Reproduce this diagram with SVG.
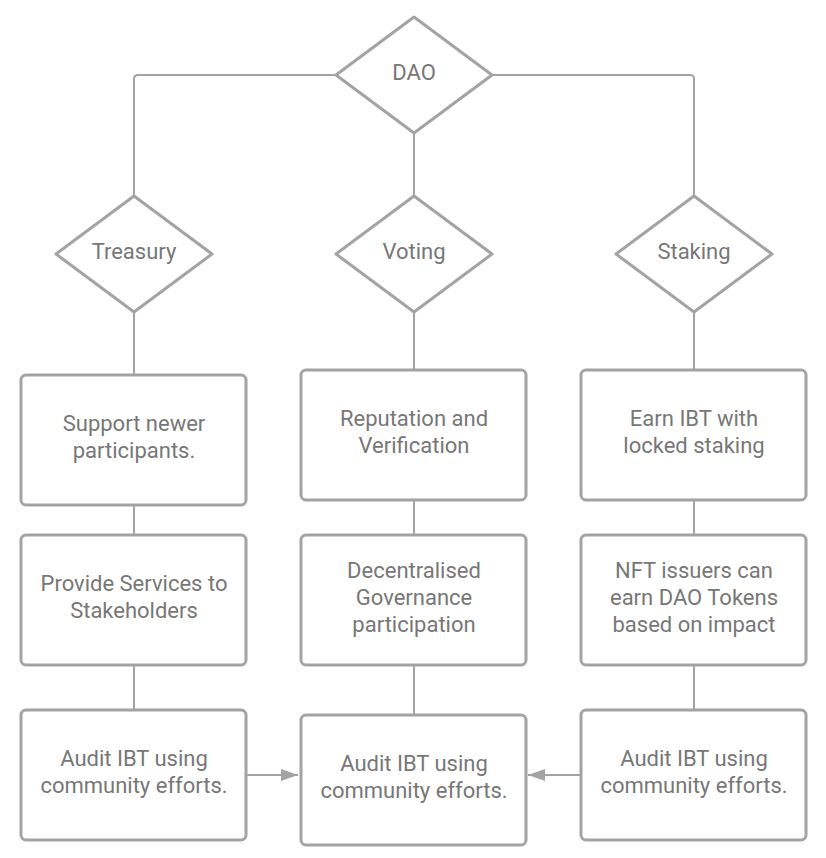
<svg xmlns="http://www.w3.org/2000/svg" width="826" height="858" viewBox="0 0 826 858">
<style>
.shape{fill:#ffffff;stroke:#a3a3a3;stroke-width:3;stroke-linejoin:round}
.conn{fill:none;stroke:#a3a3a3;stroke-width:2;stroke-linejoin:round}
.lbl{font-family:Roboto,"Liberation Sans",Arial,sans-serif;font-size:22px;fill:#777777;text-anchor:middle}
</style>
<defs>
<marker id="arr" viewBox="0 0 17 12" refX="17" refY="6" markerWidth="17" markerHeight="12" markerUnits="userSpaceOnUse" orient="auto">
<path d="M0,0 L17,6 L0,12 Z" fill="#a3a3a3"/>
</marker>
</defs>
<rect width="826" height="858" fill="#ffffff"/>
<g id="connectors">
<path class="conn" d="M336,75 H138 Q134,75 134,79 V196"/>
<path class="conn" d="M492,75 H690 Q694,75 694,79 V196"/>
<path class="conn" d="M414,133 V196"/>
<path class="conn" d="M134,312 V375"/>
<path class="conn" d="M134,505 V535"/>
<path class="conn" d="M134,665 V710"/>
<path class="conn" d="M414,312 V370"/>
<path class="conn" d="M414,500 V535"/>
<path class="conn" d="M414,665 V715"/>
<path class="conn" d="M694,312 V370"/>
<path class="conn" d="M694,500 V535"/>
<path class="conn" d="M694,665 V710"/>
<path class="conn" d="M246,775 H298" marker-end="url(#arr)"/>
<path class="conn" d="M581,775 H528" marker-end="url(#arr)"/>
</g>
<g id="dao">
<path class="shape" d="M414,17 L492,75 L414,133 L336,75 Z"/>
<text class="lbl" x="414" y="80">DAO</text>
</g>
<g id="treasury">
<path class="shape" d="M134,196 L212,254 L134,312 L56,254 Z"/>
<text class="lbl" x="134" y="259">Treasury</text>
</g>
<g id="voting">
<path class="shape" d="M414,196 L492,254 L414,312 L336,254 Z"/>
<text class="lbl" x="414" y="259">Voting</text>
</g>
<g id="staking">
<path class="shape" d="M694,196 L772,254 L694,312 L616,254 Z"/>
<text class="lbl" x="694" y="259">Staking</text>
</g>
<g id="t1">
<rect class="shape" x="21" y="375" width="225" height="130" rx="5"/>
<text class="lbl" x="134" y="431">Support newer</text>
<text class="lbl" x="134" y="458">participants.</text>
</g>
<g id="t2">
<rect class="shape" x="21" y="535" width="225" height="130" rx="5"/>
<text class="lbl" x="134" y="591">Provide Services to</text>
<text class="lbl" x="134" y="618">Stakeholders</text>
</g>
<g id="t3">
<rect class="shape" x="21" y="710" width="225" height="130" rx="5"/>
<text class="lbl" x="134" y="766">Audit IBT using</text>
<text class="lbl" x="134" y="793">community efforts.</text>
</g>
<g id="v1">
<rect class="shape" x="301" y="370" width="225" height="130" rx="5"/>
<text class="lbl" x="414" y="426">Reputation and</text>
<text class="lbl" x="414" y="453">Verification</text>
</g>
<g id="v2">
<rect class="shape" x="301" y="535" width="225" height="130" rx="5"/>
<text class="lbl" x="414" y="578">Decentralised</text>
<text class="lbl" x="414" y="605">Governance</text>
<text class="lbl" x="414" y="632">participation</text>
</g>
<g id="v3">
<rect class="shape" x="301" y="715" width="225" height="130" rx="5"/>
<text class="lbl" x="414" y="771">Audit IBT using</text>
<text class="lbl" x="414" y="798">community efforts.</text>
</g>
<g id="s1">
<rect class="shape" x="581" y="370" width="225" height="130" rx="5"/>
<text class="lbl" x="694" y="426">Earn IBT with</text>
<text class="lbl" x="694" y="453">locked staking</text>
</g>
<g id="s2">
<rect class="shape" x="581" y="535" width="225" height="130" rx="5"/>
<text class="lbl" x="694" y="578">NFT issuers can</text>
<text class="lbl" x="694" y="605">earn DAO Tokens</text>
<text class="lbl" x="694" y="632">based on impact</text>
</g>
<g id="s3">
<rect class="shape" x="581" y="710" width="225" height="130" rx="5"/>
<text class="lbl" x="694" y="766">Audit IBT using</text>
<text class="lbl" x="694" y="793">community efforts.</text>
</g>
</svg>
